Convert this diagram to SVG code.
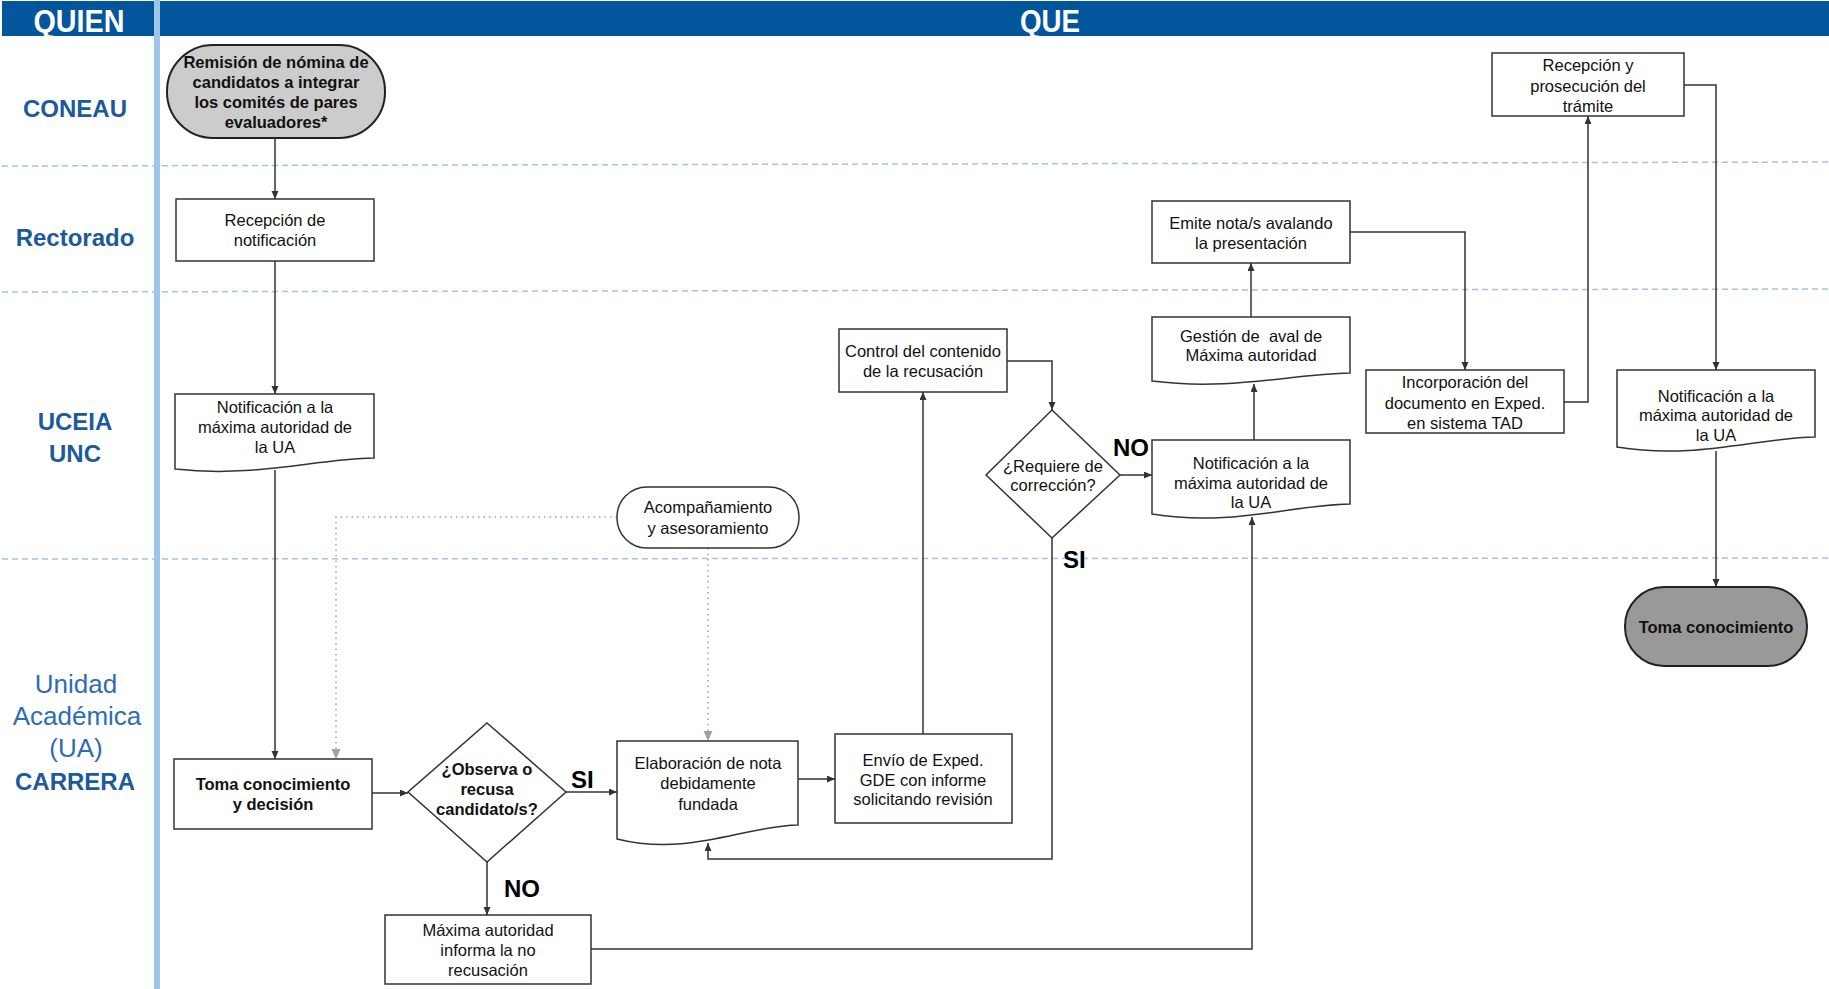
<svg xmlns="http://www.w3.org/2000/svg" width="1829" height="989" viewBox="0 0 1829 989">
  <style>
    .lane-line { stroke: #9fc5e8; stroke-width: 1.5; stroke-dasharray: 6 4; fill: none; }
    .hdr { font-family: "Liberation Sans", Arial, sans-serif; font-weight: bold; font-size: 32px; fill: #ffffff; text-anchor: middle; }
    .who { font-family: "Liberation Sans", Arial, sans-serif; font-weight: bold; font-size: 24px; fill: #1c5a9c; text-anchor: middle; }
    .who-light { font-family: "Liberation Sans", Arial, sans-serif; font-size: 26px; fill: #2f6db1; text-anchor: middle; }
    .box { fill: #ffffff; stroke: #333333; stroke-width: 1.5; }
    .t { font-family: "Liberation Sans", Arial, sans-serif; font-size: 16.5px; fill: #111111; text-anchor: middle; white-space: pre; }
    .tb { font-family: "Liberation Sans", Arial, sans-serif; font-size: 16.5px; font-weight: bold; fill: #111111; text-anchor: middle; }
    .lbl { font-family: "Liberation Sans", Arial, sans-serif; font-size: 24px; font-weight: bold; fill: #000000; }
    .conn { fill: none; stroke: #333333; stroke-width: 1.5; marker-end: url(#arrow); }
    .dot { fill: none; stroke: #a0a0a0; stroke-width: 1.5; stroke-dasharray: 1.5 4; marker-end: url(#arrow-gray); }
  </style>
  <defs>
    <marker id="arrow" markerUnits="userSpaceOnUse" markerWidth="9" markerHeight="8" refX="8" refY="3.5" orient="auto">
      <path d="M0,0 L8,3.5 L0,7 z" fill="#333333"/>
    </marker>
    <marker id="arrow-gray" markerUnits="userSpaceOnUse" markerWidth="11" markerHeight="10" refX="10" refY="4.5" orient="auto">
      <path d="M0,0 L10,4.5 L0,9 z" fill="#a0a0a0"/>
    </marker>
  </defs>

  <rect x="0" y="0" width="1829" height="989" fill="#ffffff"/>

  <!-- swimlane frame -->
  <g id="lanes">
    <rect x="2" y="1" width="1827" height="35" fill="#03569c"/>
    <line class="lane-line" x1="2" y1="166" x2="1829" y2="162"/>
    <line class="lane-line" x1="2" y1="292" x2="1829" y2="289"/>
    <line class="lane-line" x1="2" y1="559" x2="1829" y2="558"/>
    <rect x="154" y="0" width="6" height="989" fill="#9fc5e8"/>
    <text class="hdr" x="79" y="32" textLength="91" lengthAdjust="spacingAndGlyphs">QUIEN</text>
    <text class="hdr" x="1050" y="32" textLength="60" lengthAdjust="spacingAndGlyphs">QUE</text>
    <text class="who" x="75" y="117">CONEAU</text>
    <text class="who" x="75" y="246">Rectorado</text>
    <text class="who" x="75" y="430">UCEIA</text>
    <text class="who" x="75" y="462">UNC</text>
    <text class="who-light" x="76" y="693">Unidad</text>
    <text class="who-light" x="77" y="725">Académica</text>
    <text class="who-light" x="76" y="757">(UA)</text>
    <text class="who" x="75" y="790">CARRERA</text>
  </g>

  <!-- connectors -->
  <g id="connectors">
    <path class="conn" d="M275,138 V199"/>
    <path class="conn" d="M275,261 V394"/>
    <path class="conn" d="M275,470 V759"/>
    <path class="dot" d="M617,517 H336 V759"/>
    <path class="conn" d="M372,793 H408"/>
    <path class="conn" d="M566,792 H617"/>
    <path class="conn" d="M487,862 V915"/>
    <path class="conn" d="M591,949 H1252 V517"/>
    <path class="dot" d="M708,548 V741"/>
    <path class="conn" d="M798,779 H835"/>
    <path class="conn" d="M923,734 V392"/>
    <path class="conn" d="M1007,361 H1052 V410"/>
    <path class="conn" d="M1120,475 H1152"/>
    <path class="conn" d="M1052,538 V859 H708 V843"/>
    <path class="conn" d="M1254,440 V384"/>
    <path class="conn" d="M1251,317 V263"/>
    <path class="conn" d="M1350,232 H1465 V370"/>
    <path class="conn" d="M1564,402 H1588 V116"/>
    <path class="conn" d="M1684,85 H1716 V370"/>
    <path class="conn" d="M1716,451 V587"/>
    <text class="lbl" x="571" y="788">SI</text>
    <text class="lbl" x="504" y="897">NO</text>
    <text class="lbl" x="1113" y="456">NO</text>
    <text class="lbl" x="1063" y="568">SI</text>
  </g>

  <!-- CONEAU -->
  <g id="remision">
    <rect x="167" y="45" width="218" height="93" rx="46" fill="#cccccc" stroke="#222222" stroke-width="2"/>
    <text class="tb" x="276" y="68">Remisión de nómina de</text>
    <text class="tb" x="276" y="88">candidatos a integrar</text>
    <text class="tb" x="276" y="108">los comités de pares</text>
    <text class="tb" x="276" y="128">evaluadores*</text>
  </g>
  <g id="recepcion-prosecucion">
    <rect class="box" x="1492" y="53" width="192" height="63"/>
    <text class="t" x="1588" y="71">Recepción y</text>
    <text class="t" x="1588" y="92">prosecución del</text>
    <text class="t" x="1588" y="112">trámite</text>
  </g>

  <!-- Rectorado -->
  <g id="recepcion-notificacion">
    <rect class="box" x="176" y="199" width="198" height="62"/>
    <text class="t" x="275" y="226">Recepción de</text>
    <text class="t" x="275" y="246">notificación</text>
  </g>
  <g id="emite-nota">
    <rect class="box" x="1152" y="201" width="198" height="62"/>
    <text class="t" x="1251" y="229">Emite nota/s avalando</text>
    <text class="t" x="1251" y="249">la presentación</text>
  </g>

  <!-- UCEIA UNC -->
  <g id="notificacion-ua-1">
    <path class="box" d="M175,394 H374 V458 C314,459 255,478 175,469 Z"/>
    <text class="t" x="275" y="413">Notificación a la</text>
    <text class="t" x="275" y="433">máxima autoridad de</text>
    <text class="t" x="275" y="453">la UA</text>
  </g>
  <g id="acompanamiento">
    <rect class="box" x="617" y="487" width="182" height="61" rx="30"/>
    <text class="t" x="708" y="513">Acompañamiento</text>
    <text class="t" x="708" y="534">y asesoramiento</text>
  </g>
  <g id="control-contenido">
    <rect class="box" x="839" y="329" width="168" height="63"/>
    <text class="t" x="923" y="357">Control del contenido</text>
    <text class="t" x="923" y="377">de la recusación</text>
  </g>
  <g id="requiere-correccion">
    <polygon class="box" points="1052,410 1120,475 1052,538 986,475"/>
    <text class="t" x="1053" y="472">¿Requiere de</text>
    <text class="t" x="1053" y="491">corrección?</text>
  </g>
  <g id="notificacion-ua-2">
    <path class="box" d="M1152,440 H1350 V504 C1291,505 1231,527 1152,514 Z"/>
    <text class="t" x="1251" y="469">Notificación a la</text>
    <text class="t" x="1251" y="489">máxima autoridad de</text>
    <text class="t" x="1251" y="508">la UA</text>
  </g>
  <g id="gestion-aval">
    <path class="box" d="M1152,317 H1350 V373 C1291,374 1231,391 1152,381 Z"/>
    <text class="t" x="1251" y="342" xml:space="preserve">Gestión de  aval de</text>
    <text class="t" x="1251" y="361">Máxima autoridad</text>
  </g>
  <g id="incorporacion">
    <rect class="box" x="1366" y="370" width="198" height="63"/>
    <text class="t" x="1465" y="388">Incorporación del</text>
    <text class="t" x="1465" y="409">documento en Exped.</text>
    <text class="t" x="1465" y="429">en sistema TAD</text>
  </g>
  <g id="notificacion-ua-3">
    <path class="box" d="M1617,370 H1815 V437 C1756,438 1696,460 1617,447 Z"/>
    <text class="t" x="1716" y="402">Notificación a la</text>
    <text class="t" x="1716" y="421">máxima autoridad de</text>
    <text class="t" x="1716" y="441">la UA</text>
  </g>

  <!-- Unidad Académica -->
  <g id="toma-decision">
    <rect class="box" x="174" y="759" width="198" height="70"/>
    <text class="tb" x="273" y="790">Toma conocimiento</text>
    <text class="tb" x="273" y="810">y decisión</text>
  </g>
  <g id="observa-recusa">
    <polygon class="box" points="487,723 566,792 487,862 408,792"/>
    <text class="tb" x="487" y="775">¿Observa o</text>
    <text class="tb" x="487" y="795">recusa</text>
    <text class="tb" x="487" y="815">candidato/s?</text>
  </g>
  <g id="elaboracion-nota">
    <path class="box" d="M617,741 H798 V825 C744,826 689,857 617,839 Z"/>
    <text class="t" x="708" y="769">Elaboración de nota</text>
    <text class="t" x="708" y="789">debidamente</text>
    <text class="t" x="708" y="810">fundada</text>
  </g>
  <g id="envio-exped">
    <rect class="box" x="835" y="734" width="177" height="89"/>
    <text class="t" x="923" y="766">Envío de Exped.</text>
    <text class="t" x="923" y="786">GDE con informe</text>
    <text class="t" x="923" y="805">solicitando revisión</text>
  </g>
  <g id="maxima-autoridad">
    <rect class="box" x="385" y="915" width="206" height="69"/>
    <text class="t" x="488" y="936">Máxima autoridad</text>
    <text class="t" x="488" y="956">informa la no</text>
    <text class="t" x="488" y="976">recusación</text>
  </g>
  <g id="toma-conocimiento">
    <rect x="1625" y="587" width="182" height="79" rx="39" fill="#999999" stroke="#222222" stroke-width="2"/>
    <text class="tb" x="1716" y="633">Toma conocimiento</text>
  </g>
</svg>
